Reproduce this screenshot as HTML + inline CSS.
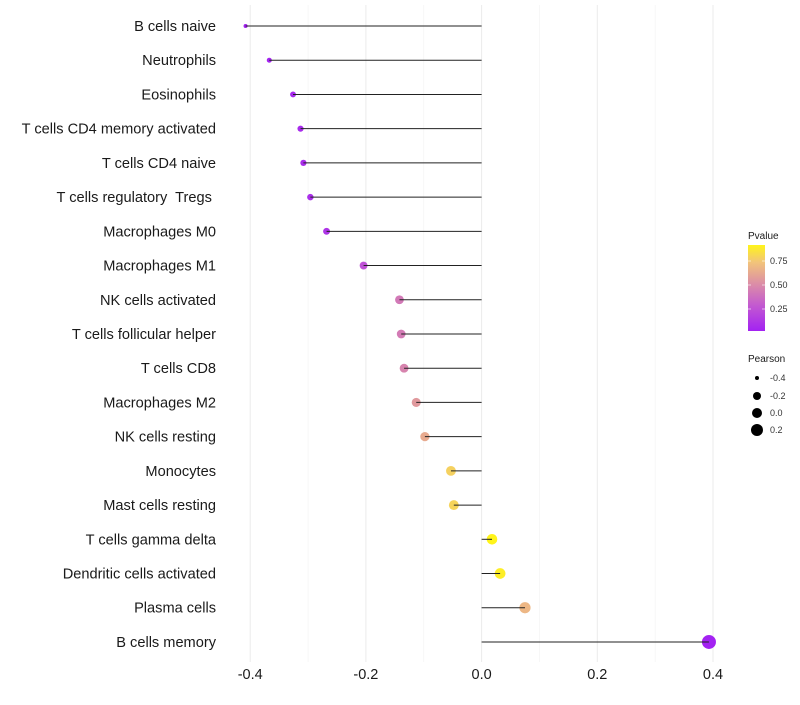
<!DOCTYPE html>
<html><head><meta charset="utf-8"><style>
body{margin:0;background:#fff;font-family:"Liberation Sans",sans-serif}
</style></head><body>
<svg id="c" width="800" height="700" xmlns="http://www.w3.org/2000/svg" font-family="Liberation Sans, sans-serif">
<defs><linearGradient id="pg" x1="0" y1="1" x2="0" y2="0">
<stop offset="0" stop-color="#a322f2"/><stop offset="0.3" stop-color="#c35ad0"/><stop offset="0.55" stop-color="#dc8ea6"/><stop offset="0.8" stop-color="#f2c47a"/><stop offset="1" stop-color="#fff41a"/>
</linearGradient></defs>
<g id="grid"></g><g id="marks"></g><g id="labels"></g>
<g>
<text x="748" y="239" font-size="10" fill="#1a1a1a">Pvalue</text>
<rect x="748" y="245" width="17" height="86" fill="url(#pg)"/>
<g stroke="#fff" stroke-opacity="0.6"><line x1="748" x2="751" y1="261" y2="261"/><line x1="762" x2="765" y1="261" y2="261"/><line x1="748" x2="751" y1="285" y2="285"/><line x1="762" x2="765" y1="285" y2="285"/><line x1="748" x2="751" y1="309" y2="309"/><line x1="762" x2="765" y1="309" y2="309"/></g>
<g font-size="9" fill="#333"><text x="770" y="264">0.75</text><text x="770" y="288">0.50</text><text x="770" y="312">0.25</text></g>
</g>
<g>
<text x="748" y="362" font-size="10" fill="#1a1a1a">Pearson</text>
<circle cx="757" cy="378" r="2" fill="#000"/><circle cx="757" cy="396" r="4" fill="#000"/><circle cx="757" cy="413" r="5" fill="#000"/><circle cx="757" cy="430" r="6" fill="#000"/>
<g font-size="9" fill="#333"><text x="770" y="381">-0.4</text><text x="770" y="399">-0.2</text><text x="770" y="416">0.0</text><text x="770" y="433">0.2</text></g>
</g>
</svg>
<script>
const categories=["B cells naive","Neutrophils","Eosinophils","T cells CD4 memory activated","T cells CD4 naive","T cells regulatory  Tregs ","Macrophages M0","Macrophages M1","NK cells activated","T cells follicular helper","T cells CD8","Macrophages M2","NK cells resting","Monocytes","Mast cells resting","T cells gamma delta","Dendritic cells activated","Plasma cells","B cells memory"];
const pearson=[-0.408,-0.367,-0.326,-0.313,-0.308,-0.296,-0.268,-0.204,-0.142,-0.139,-0.134,-0.113,-0.098,-0.053,-0.048,0.018,0.032,0.075,0.393];
const pvalue=[0.001,0.01,0.04,0.05,0.06,0.07,0.1,0.25,0.45,0.46,0.5,0.6,0.68,0.84,0.85,0.95,0.93,0.74,0.0001];
const xTicks=[-0.4,-0.2,0,0.2,0.4];
const xTickLabels=["-0.4","-0.2","0.0","0.2","0.4"];
const minorTicks=[-0.3,-0.1,0.1,0.3];
const NS="http://www.w3.org/2000/svg";
const x=v=>481.6+v*578.5;
const y=i=>26+i*34.22;
const rad=v=>Math.sqrt(Math.max(1,4+(v+0.41)*56));
const stops=[[0,[163,34,242]],[0.3,[195,90,208]],[0.55,[220,142,166]],[0.8,[242,196,122]],[0.95,[255,244,26]]];
function col(p){p=Math.max(0,Math.min(0.95,p));for(let k=0;k<stops.length-1;k++){const a=stops[k],b=stops[k+1];if(p<=b[0]){const t=(p-a[0])/(b[0]-a[0]);return "rgb("+a[1].map((c,j)=>Math.round(c+(b[1][j]-c)*t)).join(",")+")";}}return "rgb(255,244,26)";}
function mk(t,a,p){const e=document.createElementNS(NS,t);for(const k in a)e.setAttribute(k,a[k]);p.appendChild(e);return e;}
const g=document.getElementById('grid'),m=document.getElementById('marks'),l=document.getElementById('labels');
minorTicks.forEach(v=>{const e=mk('line',{x1:x(v),x2:x(v),y1:5,y2:662,stroke:'#f2f2f2','stroke-width':0.6},g);

});
xTicks.forEach((v,i)=>{const e=mk('line',{x1:x(v),x2:x(v),y1:5,y2:662,stroke:'#ebebeb','stroke-width':1},g);


const t=mk('text',{x:x(v),y:679,'font-size':14.5,'text-anchor':'middle',fill:'#1a1a1a'},l);t.textContent=xTickLabels[i];

});
categories.forEach((c,i)=>{
const t=mk('text',{x:216,y:y(i)+5,'font-size':14.6,'text-anchor':'end',fill:'#1a1a1a','xml:space':'preserve',style:'white-space:pre'},l);t.textContent=c;


const p=mk('circle',{cx:x(pearson[i]),cy:y(i),r:rad(pearson[i]),fill:col(pvalue[i])},m);


const s=mk('line',{x1:x(0),x2:x(pearson[i]),y1:y(i),y2:y(i),stroke:'#222','stroke-width':1},m);


});
</script>
</body></html>
